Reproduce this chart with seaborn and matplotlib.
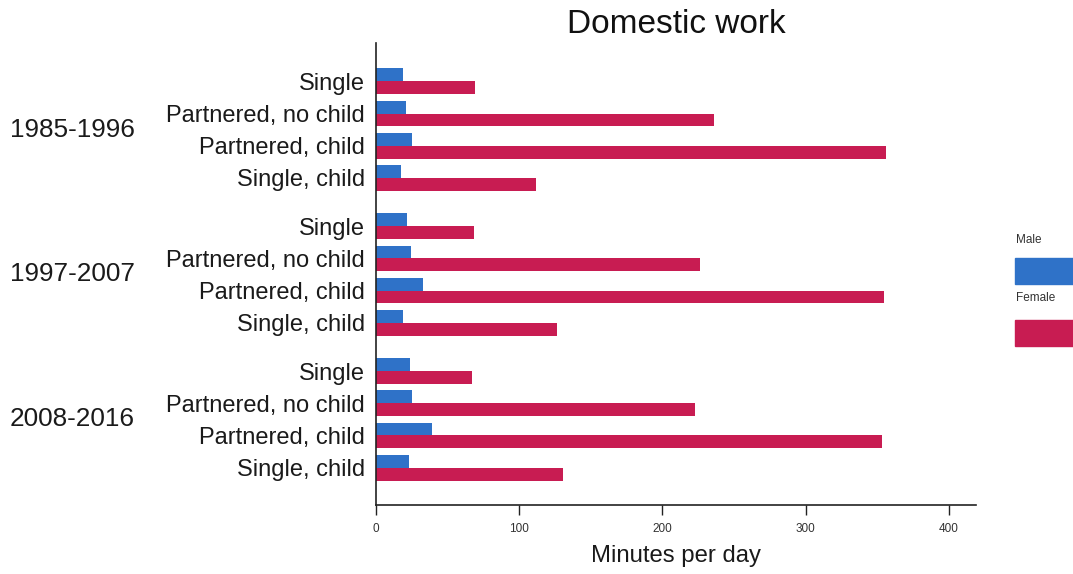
import numpy as np
import pandas as pd
import matplotlib
matplotlib.use("Agg")
import matplotlib.pyplot as plt
from matplotlib.patches import Rectangle
from matplotlib.transforms import blended_transform_factory
import seaborn as sns

# Minutes per day spent on domestic work, by period and household type
periods = ["1985-1996", "1997-2007", "2008-2016"]
household = ["Single", "Partnered, no child", "Partnered, child", "Single, child"]
male = [
    [18.8, 20.8, 25.3, 17.5],
    [21.8, 24.6, 33.1, 18.6],
    [23.9, 25.3, 39.1, 22.8],
]
female = [
    [69.4, 235.7, 355.9, 111.9],
    [68.4, 226.1, 354.5, 126.4],
    [67.2, 222.7, 353.5, 130.7],
]
sexes = ["Male", "Female"]
colors = {"Male": "#2f72c8", "Female": "#c81c52"}

# Row positions: one unit per household type, extra gap between periods
group_gap = 1.5
rows = []
for g, period in enumerate(periods):
    for h, name in enumerate(household):
        pos = g * (len(household) - 1 + group_gap) + h
        rows.append((period, name, pos, "Male", male[g][h]))
        rows.append((period, name, pos, "Female", female[g][h]))
df = pd.DataFrame(rows, columns=["period", "household", "pos", "sex", "minutes"])

sns.set_theme(style="white")
plt.rcParams["font.family"] = ["Liberation Sans", "DejaVu Sans"]

fig = plt.figure(figsize=(10.73, 5.74), dpi=100)
ax = fig.add_axes([376 / 1073, 1 - 505 / 574, (976 - 376) / 1073, (505 - 43) / 574])

sns.barplot(
    data=df, x="minutes", y="pos", hue="sex", hue_order=sexes,
    palette=colors, orient="y", native_scale=True, dodge=True,
    saturation=1, linewidth=0, legend=False, ax=ax,
)

positions = df.drop_duplicates("pos")["pos"].to_numpy()
labels = df.drop_duplicates("pos")["household"].tolist()
ax.set_yticks(positions)
ax.set_yticklabels(labels, fontsize=17, color="#1a1a1a")
ax.set_ylim(positions.max() + 1.16, positions.min() - 1.19)
ax.set_ylabel("")

ax.set_xlim(0, 419)
ax.set_xticks([0, 100, 200, 300, 400])
ax.tick_params(axis="x", which="major", direction="out", length=7, width=1,
               color="#222222", labelsize=8.5, labelcolor="#333333", pad=6, bottom=True)
ax.tick_params(axis="y", length=0, pad=8)
ax.set_xlabel("Minutes per day", fontsize=17.2, color="#1a1a1a", labelpad=7)

for side in ["top", "right"]:
    ax.spines[side].set_visible(False)
for side in ["left", "bottom"]:
    ax.spines[side].set_color("#222222")
    ax.spines[side].set_linewidth(1.2)

ax.set_title("Domestic work", fontsize=24, color="#111111", pad=7)

# Period labels to the left of the household labels
trans = blended_transform_factory(fig.transFigure, ax.transData)
n = len(household)
for g, period in enumerate(periods):
    center = positions[g * n:(g + 1) * n].mean()
    ax.text(10 / 1073, center, period, transform=trans, ha="left", va="center",
            fontsize=18.8, color="#1a1a1a")

# Legend: label above each colour key
W, H = 1073, 574
for i, sex in enumerate(sexes):
    ty = 240 + i * 58
    fig.text(1016 / W, 1 - ty / H, sex, fontsize=8.5, color="#333333",
             ha="left", va="center")
    top = 258 + i * 62
    fig.patches.append(Rectangle((1015 / W, 1 - (top + 26) / H), 58 / W, 26 / H,
                                 transform=fig.transFigure, color=colors[sex]))

fig.savefig("out.png", dpi=100)
